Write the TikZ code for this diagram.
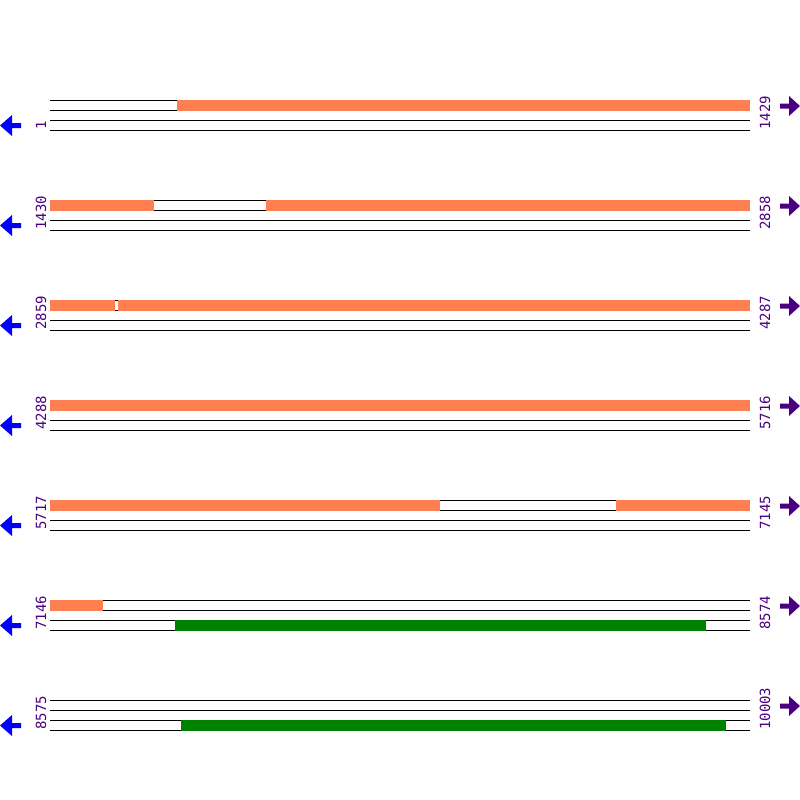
\documentclass[tikz,border=0pt]{standalone}
\usepackage{fontspec}
\newfontfamily\monofont{DejaVu Sans Mono}
\usetikzlibrary{positioning}
\definecolor{hitorange}{HTML}{FF7F50}
\definecolor{hitgreen}{HTML}{008000}
\definecolor{numpurple}{HTML}{4B0082}
\tikzset{track/.style={line width=1pt},
	numlabel/.style={rotate=90,anchor=base west,inner sep=0pt,text=numpurple,font=\monofont\fontsize{14}{14}\selectfont}}
\begin{document}
\begin{tikzpicture}[x=1pt,y=-1pt]
		\useasboundingbox (0,0) rectangle (800,800);
		% seven rows of four strands
		\foreach \r/\a/\b in {0/1/1429,1/1430/2858,2/2859/4287,3/4288/5716,4/5717/7145,5/7146/8574,6/8575/10003}{
			\pgfmathsetmacro\y{100+100*\r}
			\foreach \k in {0,10,20,30}
				\draw[track] (50,\y+\k) -- (750,\y+\k);
			\node[numlabel] (left\r) at (46,\y+30) {\a};
			\node[numlabel] (right\r) at (770,\y+30) {\b};
			\fill[blue] (0,\y+25.5) -- (12,\y+15) -- (12,\y+23) -- (21,\y+23) -- (21,\y+28) -- (12,\y+28) -- (12,\y+36) -- cycle;
			\fill[numpurple] (800,\y+6) -- (789,\y-4) -- (789,\y+3.5) -- (780,\y+3.5) -- (780,\y+8.5) -- (789,\y+8.5) -- (789,\y+16) -- cycle;
		}
		% orange hits on the top strand
		\fill[hitorange] (177,99.5) rectangle (750,110.5);
		\fill[hitorange] (50,199.5) rectangle (154,210.5);
		\fill[hitorange] (266,199.5) rectangle (750,210.5);
		\fill[hitorange] (50,299.5) rectangle (115,310.5);
		\fill[hitorange] (118,299.5) rectangle (750,310.5);
		\fill[hitorange] (50,399.5) rectangle (750,410.5);
		\fill[hitorange] (50,499.5) rectangle (440,510.5);
		\fill[hitorange] (616,499.5) rectangle (750,510.5);
		\fill[hitorange] (50,599.5) rectangle (103,610.5);
		% green hits on the bottom strand
		\fill[hitgreen] (175,619.5) rectangle (706,630.5);
		\fill[hitgreen] (181,719.5) rectangle (726,730.5);
\end{tikzpicture}
\end{document}
